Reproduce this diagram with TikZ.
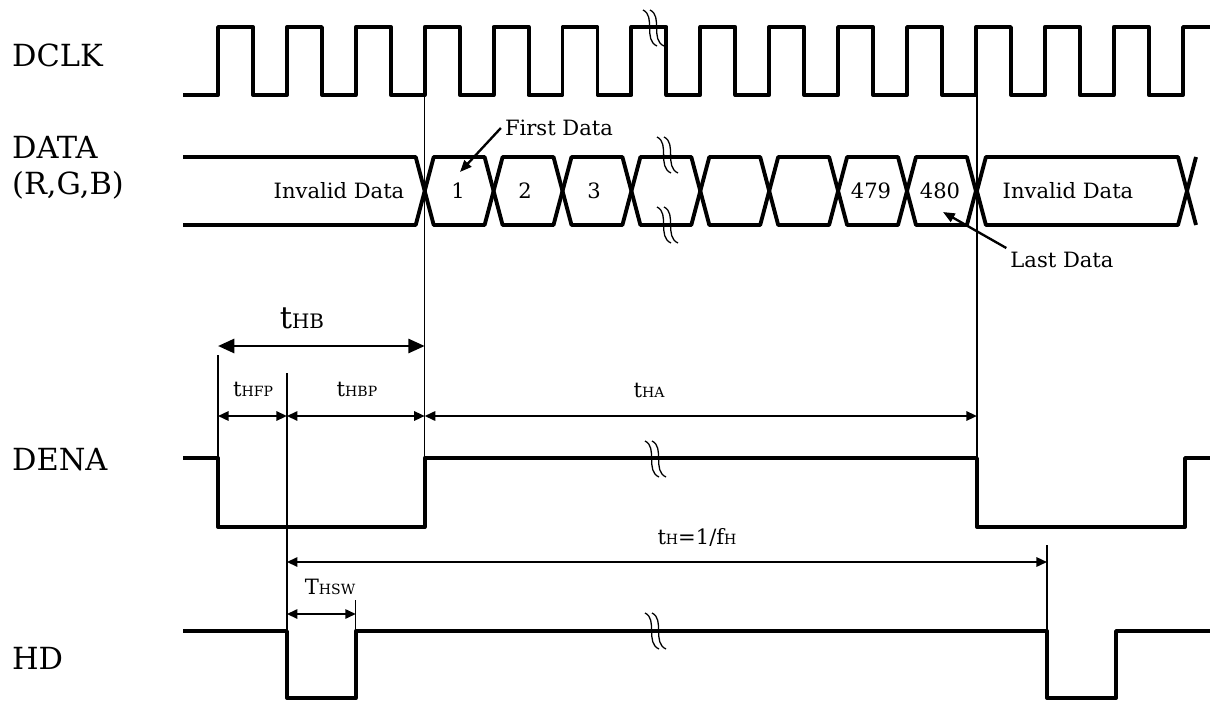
\documentclass[tikz,border=0pt]{standalone}
\usepackage{fontspec}
\setmainfont{DejaVu Serif}
\usetikzlibrary{arrows.meta}

\newcommand{\subtxt}[1]{{\fontsize{12}{12}\selectfont #1}}

\begin{document}
\begin{tikzpicture}[x=0.03cm,y=-0.03cm,
  sig/.style={line width=3.3pt,line join=round},
  guide/.style={line width=1.1pt},
  dimarrow/.style={line width=1.6pt,{Triangle[length=9pt,width=8pt]}-{Triangle[length=9pt,width=8pt]}},
  bigarrow/.style={line width=2.4pt,{Triangle[length=14pt,width=12pt]}-{Triangle[length=14pt,width=12pt]}},
  callout/.style={line width=2pt,-{Triangle[length=10pt,width=8pt]}},
  namelbl/.style={anchor=west,align=left,font=\fontsize{26}{31}\selectfont},
  buslbl/.style={font=\fontsize{18}{20}\selectfont},
  timelbl/.style={font=\fontsize{18}{20}\selectfont},
  brk/.pic={\foreach \d in {0,7} \draw[line width=1.1pt] ({\d-7},-18) .. controls ({\d+6},-12) and ({\d-7},12) .. ({\d+7},18);}
]
\useasboundingbox (0,0) rectangle (1210,701);

% Signal names
\node[namelbl] (dclk) at (8,55) {DCLK};
\node[namelbl] (data) at (8,168) {DATA\\(R,G,B)};
\node[namelbl] (dena) at (8,460) {DENA};
\node[namelbl] (hd) at (8,658) {HD};

% DCLK
\draw[sig] (183,95) \foreach \k in {0,...,13} { -- ({218+68.9*\k},95) -- ({218+68.9*\k},27) -- ({253+68.9*\k},27) -- ({253+68.9*\k},95) } -- (1183,95) -- (1183,27) -- (1210,27);

% DATA bus
\draw[sig] (183,157) -- (415.7,157) -- (424.7,191) -- (415.7,225) -- (183,225);
\foreach \k [evaluate=\k as \x using 218+68.9*\k] in {3,...,10}
  \draw[sig] (\x,191) -- (\x+9,157) -- (\x+59.9,157) -- (\x+68.9,191) -- (\x+59.9,225) -- (\x+9,225) -- cycle;
\draw[sig] (976.9,191) -- (985.9,157) -- (1178,157) -- (1187,191) -- (1178,225) -- (985.9,225) -- cycle;
\draw[sig] (1196,157) -- (1187,191) -- (1196,225);

\node[buslbl] (inv1) at (339,191) {Invalid Data};
\node[buslbl] (d1) at (458,191) {1};
\node[buslbl] (d2) at (525,191) {2};
\node[buslbl] (d3) at (594,191) {3};
\node[buslbl] (d479) at (871,191) {479};
\node[buslbl] (d480) at (940,191) {480};
\node[buslbl] (inv2) at (1068,191) {Invalid Data};

% DENA
\draw[sig] (183,458) -- (218,458) -- (218,527) -- (424.7,527) -- (424.7,458) -- (976.9,458) -- (976.9,527) -- (1185,527) -- (1185,458) -- (1210,458);

% HD
\draw[sig] (183,631) -- (286.9,631) -- (286.9,698) -- (355.8,698) -- (355.8,631) -- (1047,631) -- (1047,698) -- (1116,698) -- (1116,631) -- (1210,631);

% Break marks
\pic at (650,28) {brk};
\pic at (664,155) {brk};
\pic at (664,225) {brk};
\pic at (652,459) {brk};
\pic at (652,631) {brk};

% Reference lines
\draw[guide] (424.7,95) -- (424.7,458);
\draw[guide] (976.9,95) -- (976.9,458);
\draw[guide] (218,355) -- (218,458);
\draw[guide] (286.9,373) -- (286.9,631);
\draw[guide] (355.8,600) -- (355.8,631);
\draw[guide] (1047,545) -- (1047,631);

% Timing points
\coordinate (hb0) at (218,346);
\coordinate (hb1) at (424.7,346);
\coordinate (fp0) at (218,416);
\coordinate (fp1) at (286.9,416);
\coordinate (ha0) at (424.7,416);
\coordinate (ha1) at (976.9,416);
\coordinate (h0) at (286.9,562);
\coordinate (h1) at (1047,562);
\coordinate (sw0) at (286.9,614);
\coordinate (sw1) at (355.8,614);

% Timing arrows
\draw[bigarrow] (hb0) -- (hb1);
\draw[dimarrow] (fp0) -- (fp1);
\draw[dimarrow] (fp1) -- (ha0);
\draw[dimarrow] (ha0) -- (ha1);
\draw[dimarrow] (h0) -- (h1);
\draw[dimarrow] (sw0) -- (sw1);

% Timing labels
\node[font=\fontsize{26}{28}\selectfont] (thb) at (302,318) {t{\fontsize{17}{18}\selectfont HB}};
\node[timelbl] (thfp) at (253,389) {t\subtxt{HFP}};
\node[timelbl] (thbp) at (357,389) {t\subtxt{HBP}};
\node[timelbl] (tha) at (649,390) {t\subtxt{HA}};
\node[timelbl] (th) at (697,537) {t\subtxt{H}=1/f\subtxt{H}};
\node[timelbl] (thsw) at (330,587) {T\subtxt{HSW}};

% First / last data
\coordinate (first1) at (460,172);
\coordinate (last480) at (943,212);
\node[buslbl] (first) at (559,128) {First Data};
\node[buslbl] (last) at (1062,260) {Last Data};
\draw[callout] (first.west) -- (first1);
\draw[callout] (last.north west) -- (last480);
\end{tikzpicture}
\end{document}
